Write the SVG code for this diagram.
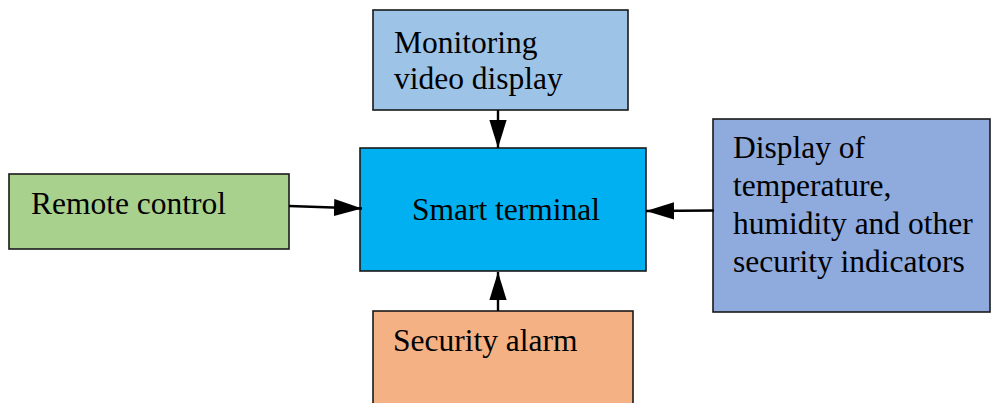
<svg xmlns="http://www.w3.org/2000/svg" width="992" height="403" viewBox="0 0 992 403">
  <style>
    .box { stroke: #1a1a1a; stroke-width: 1.6; }
    .lbl { font-size: 31.5px; fill: #000; }
    .edge { stroke: #000; stroke-width: 2.4; fill: none; marker-end: url(#head); }
  </style>
  <defs>
    <marker id="head" markerUnits="userSpaceOnUse" markerWidth="28" markerHeight="18" viewBox="0 0 26 16" refX="26" refY="8" orient="auto">
      <path d="M0,0 L26,8 L0,16 Z" fill="#000"/>
    </marker>
  </defs>

  <g id="node-monitoring">
    <rect class="box" x="373" y="10" width="255" height="100" fill="#9dc3e6"/>
    <text class="lbl" font-family="'Liberation Serif', 'DejaVu Serif', serif" x="394" y="53">Monitoring</text>
    <text class="lbl" font-family="'Liberation Serif', 'DejaVu Serif', serif" x="394" y="89">video display</text>
  </g>

  <g id="node-smart-terminal">
    <rect class="box" x="360" y="148" width="286" height="123" fill="#00b0f0"/>
    <text class="lbl" font-family="'Liberation Serif', 'DejaVu Serif', serif" x="506" y="220" text-anchor="middle">Smart terminal</text>
  </g>

  <g id="node-remote">
    <rect class="box" x="9" y="174" width="280" height="75" fill="#a9d18e"/>
    <text class="lbl" font-family="'Liberation Serif', 'DejaVu Serif', serif" x="31" y="214">Remote control</text>
  </g>

  <g id="node-indicators">
    <rect class="box" x="713" y="119" width="277" height="193" fill="#8faadc"/>
    <text class="lbl" font-family="'Liberation Serif', 'DejaVu Serif', serif" x="733" y="158">Display of</text>
    <text class="lbl" font-family="'Liberation Serif', 'DejaVu Serif', serif" x="733" y="196">temperature,</text>
    <text class="lbl" font-family="'Liberation Serif', 'DejaVu Serif', serif" x="733" y="234">humidity and other</text>
    <text class="lbl" font-family="'Liberation Serif', 'DejaVu Serif', serif" x="733" y="272">security indicators</text>
  </g>

  <g id="node-alarm">
    <rect class="box" x="373" y="311" width="260" height="100" fill="#f4b183"/>
    <text class="lbl" font-family="'Liberation Serif', 'DejaVu Serif', serif" x="393" y="351">Security alarm</text>
  </g>

  <g id="connectors">
    <path class="edge" d="M498,110 L498,148"/>
    <path class="edge" d="M289,206 L362,208.5"/>
    <path class="edge" d="M714,210.5 L646,211"/>
    <path class="edge" d="M498,311 L498,272"/>
  </g>
</svg>
